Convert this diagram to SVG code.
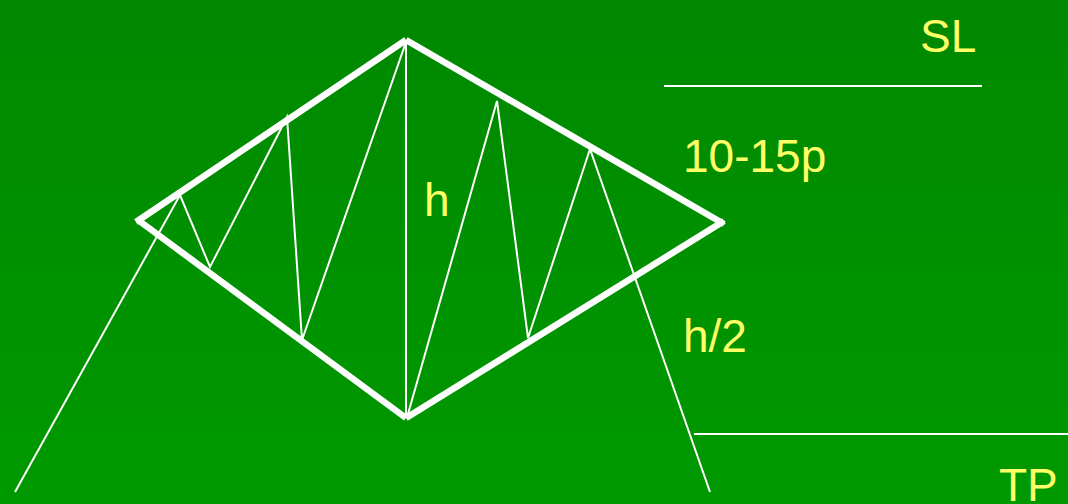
<svg xmlns="http://www.w3.org/2000/svg" width="1068" height="504" viewBox="0 0 1068 504">
<defs>
<linearGradient id="bg" x1="0" y1="0" x2="0" y2="1">
<stop offset="0" stop-color="#008800"/>
<stop offset="1" stop-color="#009900"/>
</linearGradient>
</defs>
<style>
.thick{stroke:#ffffff;stroke-width:6.5;fill:none}
.thin{stroke:#ffffff;stroke-width:2;fill:none}
.lbl{fill:#ffff66;font-family:"Liberation Sans",Arial,sans-serif;font-size:46px}
</style>
<rect width="1068" height="504" fill="url(#bg)"/>
<g id="diamond">
<line class="thick" x1="136" y1="222" x2="406" y2="40"/>
<line class="thick" x1="138" y1="220" x2="406" y2="418"/>
<line class="thick" x1="406" y1="40" x2="724" y2="224"/>
<line class="thick" x1="406" y1="418" x2="724" y2="221"/>
</g>
<g id="connectors">
<polyline class="thin" points="15,492 180,195 210,267 287,117 302,340 406,42"/>
<line class="thin" x1="406" y1="40" x2="406" y2="418"/>
<polyline class="thin" points="408,414 497,101 528,338 590,149 710,492"/>
<line class="thin" x1="664" y1="86" x2="982" y2="86"/>
<line class="thin" x1="694" y1="434" x2="1068" y2="434"/>
</g>
<g id="labels">
<text class="lbl" x="920" y="52">SL</text>
<text class="lbl" x="683" y="172">10-15p</text>
<text class="lbl" x="424" y="216">h</text>
<text class="lbl" x="683" y="352">h/2</text>
<text class="lbl" x="999" y="501">TP</text>
</g>
</svg>
